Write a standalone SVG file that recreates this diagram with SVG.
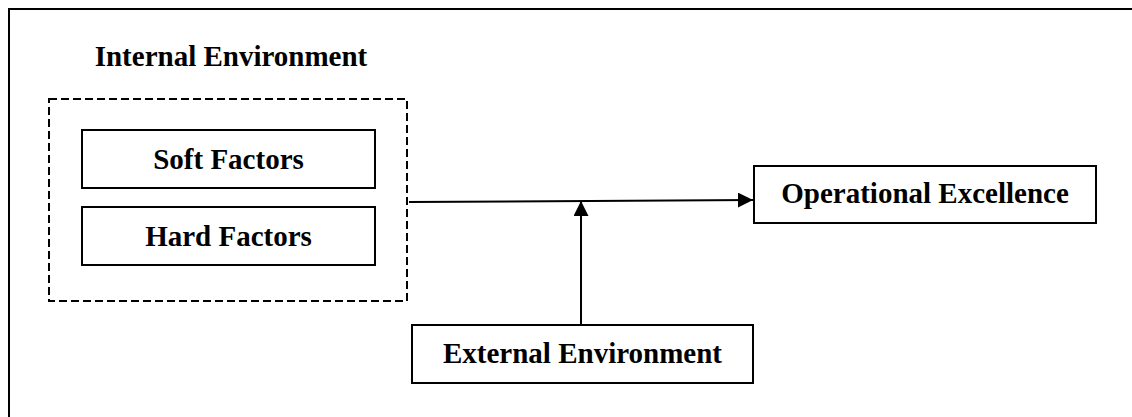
<svg xmlns="http://www.w3.org/2000/svg" width="1132" height="417" viewBox="0 0 1132 417">
  <style>
    .box { fill: #ffffff; stroke: #000000; stroke-width: 2; }
    .group { fill: none; stroke: #000000; stroke-width: 2; stroke-dasharray: 8 4; }
    .frame { fill: none; stroke: #000000; stroke-width: 2; }
    .label { font-family: "Liberation Serif", "Times New Roman", serif; font-weight: bold; font-size: 29px; fill: #000000; text-anchor: middle; }
    .edge { fill: none; stroke: #000000; stroke-width: 2; }
  </style>
  <defs>
    <marker id="arrow" viewBox="0 0 15 15" refX="15" refY="7.5" markerWidth="15" markerHeight="15" markerUnits="userSpaceOnUse" orient="auto">
      <path d="M0,0 L15,7.5 L0,15 Z" fill="#000000"/>
    </marker>
  </defs>

  <rect width="1132" height="417" fill="#ffffff"/>

  <!-- outer frame, open to the right and bottom -->
  <rect class="frame" x="9" y="9" width="1140" height="430"/>

  <g id="internal-environment">
    <text class="label" x="231" y="66">Internal Environment</text>
    <rect class="group" x="49" y="99" width="358" height="202"/>
  </g>

  <g id="soft-factors">
    <rect class="box" x="82" y="130" width="293" height="58"/>
    <text class="label" x="228.5" y="169">Soft Factors</text>
  </g>

  <g id="hard-factors">
    <rect class="box" x="82" y="207" width="293" height="58"/>
    <text class="label" x="228.5" y="246">Hard Factors</text>
  </g>

  <g id="operational-excellence">
    <rect class="box" x="754" y="166" width="342" height="57"/>
    <text class="label" x="925" y="203">Operational Excellence</text>
  </g>

  <g id="external-environment">
    <rect class="box" x="412" y="325" width="341" height="58"/>
    <text class="label" x="582.5" y="363">External Environment</text>
  </g>

  <g id="connectors">
    <line class="edge" x1="409" y1="202" x2="753" y2="200" marker-end="url(#arrow)"/>
    <line class="edge" x1="581" y1="325" x2="581" y2="201" marker-end="url(#arrow)"/>
  </g>
</svg>
